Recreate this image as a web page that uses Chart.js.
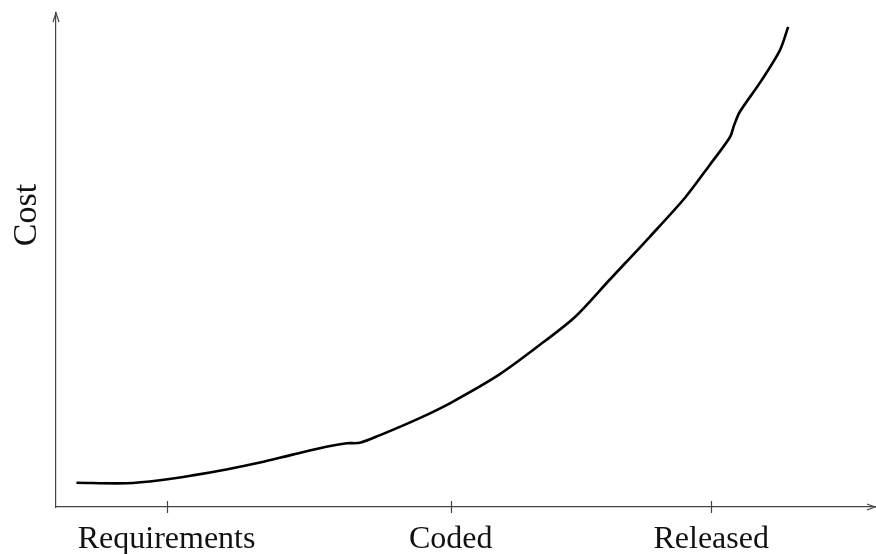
<!DOCTYPE html>
<html>
<head>
<meta charset="utf-8">
<script src="https://cdn.jsdelivr.net/npm/chart.js@4/dist/chart.umd.min.js"></script>
<style>
    html, body { margin: 0; padding: 0; background: #fff; }
    #wrap { width: 876px; height: 554px; }
</style>
</head>
<body>
<div id="wrap"><canvas id="costChart" width="876" height="554"></canvas></div>
<script>
// phase labels and where they sit on the x axis
var phaseLabels = ['Requirements', 'Coded', 'Released'];
var phasePositions = [13.5, 48.2, 80.0];

// cost curve (x = time, y = cost, both 0..100)
var timeValues = [2.5, 8.6, 12.7, 16.7, 20.8, 24.9, 28.9, 33.0, 35.5, 37.1, 39.5, 44.4, 48.2, 54.2, 59.7, 63.4, 67.6, 72.5, 76.8, 79.8, 82.3, 82.8, 83.5, 86.0, 88.4, 89.4];
var costValues = [4.9, 4.8, 5.4, 6.4, 7.6, 9.0, 10.6, 12.2, 12.9, 13.0, 14.5, 18.0, 21.1, 26.9, 33.6, 38.5, 46.0, 54.7, 62.6, 69.2, 74.9, 77.3, 80.0, 86.0, 92.5, 97.2];

var serif = "'Liberation Serif', 'Times New Roman', serif";
var axisColor = '#444';

var curvePoints = timeValues.map(function (t, i) {
    return { x: t, y: costValues[i] };
});

// arrows on the axes, crossing tick marks and the rotated "Cost" label
var axesDecor = {
    id: 'axesDecor',
    afterDraw: function (chart) {
        var ctx = chart.ctx;
        var area = chart.chartArea;
        var xs = chart.scales.x;
        ctx.save();
        ctx.strokeStyle = axisColor;
        ctx.lineWidth = 1.2;

        // y arrow
        ctx.beginPath();
        ctx.moveTo(area.left - 3, area.top + 9);
        ctx.lineTo(area.left, area.top);
        ctx.lineTo(area.left + 3, area.top + 9);
        ctx.stroke();

        // x arrow
        ctx.beginPath();
        ctx.moveTo(area.right - 8, area.bottom - 3);
        ctx.lineTo(area.right, area.bottom);
        ctx.lineTo(area.right - 8, area.bottom + 3);
        ctx.stroke();

        // tick marks
        phasePositions.forEach(function (v) {
            var px = Math.round(xs.getPixelForValue(v)) + 0.5;
            ctx.beginPath();
            ctx.moveTo(px, area.bottom - 6);
            ctx.lineTo(px, area.bottom + 6);
            ctx.stroke();
        });

        // y axis label
        ctx.fillStyle = '#111';
        ctx.font = '34px ' + serif;
        ctx.textAlign = 'center';
        ctx.textBaseline = 'alphabetic';
        ctx.translate(36, 215);
        ctx.rotate(-Math.PI / 2);
        ctx.fillText('Cost', 0, 0);
        ctx.restore();
    }
};

var costChart = new Chart(document.getElementById('costChart'), {
    type: 'line',
    data: {
        datasets: [{
            label: 'Cost',
            data: curvePoints,
            borderColor: '#000',
            borderWidth: 2.6,
            pointRadius: 0,
            fill: false,
            tension: 0.3
        }]
    },
    options: {
        responsive: false,
        animation: false,
        layout: {
            padding: { top: 13, right: 1, left: 0, bottom: 0 }
        },
        plugins: {
            legend: { display: false },
            tooltip: { enabled: false },
            title: { display: false }
        },
        scales: {
            x: {
                type: 'linear',
                min: 0,
                max: 100,
                afterBuildTicks: function (scale) {
                    scale.ticks = phasePositions.map(function (v) { return { value: v }; });
                },
                afterFit: function (scale) { scale.height = 47; },
                ticks: {
                    padding: 13,
                    maxRotation: 0,
                    autoSkip: false,
                    color: '#111',
                    font: { family: serif, size: 32 },
                    callback: function (value, index) { return phaseLabels[index]; }
                },
                grid: { display: false, drawTicks: false },
                border: { display: true, color: axisColor, width: 1.2 }
            },
            y: {
                min: 0,
                max: 100,
                afterFit: function (scale) { scale.width = 56; },
                ticks: { display: false },
                grid: { display: false, drawTicks: false },
                border: { display: true, color: axisColor, width: 1.2 }
            }
        }
    },
    plugins: [axesDecor]
});
</script>
</body>
</html>
